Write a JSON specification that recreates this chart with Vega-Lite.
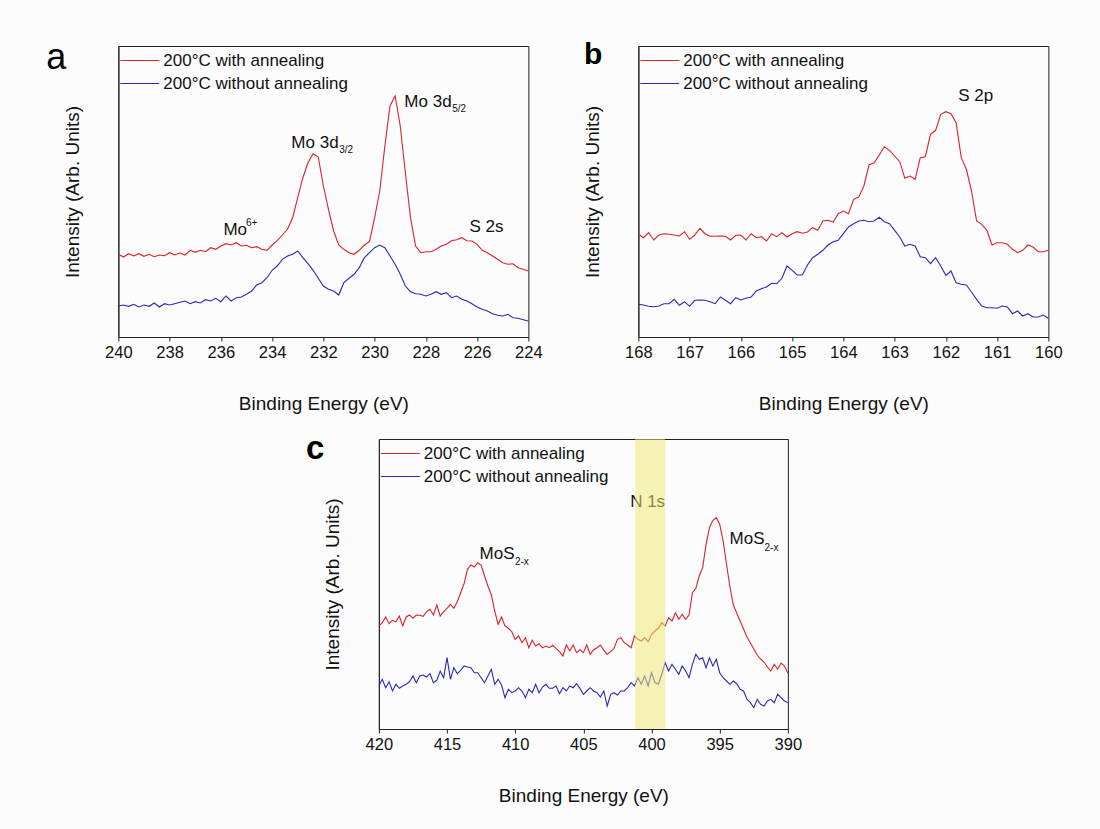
{
  "$schema": "https://vega.github.io/schema/vega-lite/v6.json",
  "background": "#fcfcfc",
  "padding": {"left": 45, "top": 39, "right": 40, "bottom": 25},
  "config": {
    "font": "Liberation Sans",
    "view": {"stroke": "#222", "strokeWidth": 1},
    "axis": {"grid": false, "domainColor": "#222", "tickColor": "#222", "labelColor": "#111", "titleColor": "#111", "titleFontWeight": "normal", "labelFontSize": 16.5, "titleFontSize": 19},
    "legend": {"labelLimit": 0}
  },
  "datasets": {
    "a": [
      {"e":240.0,"r":82.7,"b":31},{"e":239.8,"r":80,"b":32},{"e":239.6,"r":83.3,"b":30.7},{"e":239.4,"r":81,"b":32.7},{"e":239.2,"r":83.3,"b":30},
      {"e":239.0,"r":80.7,"b":32},{"e":238.8,"r":82.7,"b":30.7},{"e":238.6,"r":80.3,"b":34},{"e":238.4,"r":82,"b":30},{"e":238.2,"r":81.3,"b":33.3},
      {"e":238.0,"r":84.3,"b":32},{"e":237.8,"r":82,"b":33.3},{"e":237.6,"r":84,"b":34.7},{"e":237.4,"r":82,"b":36},{"e":237.2,"r":86.7,"b":33.3},
      {"e":237.0,"r":84.7,"b":35.3},{"e":236.8,"r":86.7,"b":34},{"e":236.6,"r":85.3,"b":37.3},{"e":236.4,"r":89.3,"b":36},{"e":236.2,"r":87.7,"b":38.7},
      {"e":236.0,"r":91,"b":35.3},{"e":235.8,"r":93.3,"b":41},{"e":235.6,"r":92,"b":36},{"e":235.4,"r":94.3,"b":39.3},{"e":235.2,"r":91,"b":40},
      {"e":235.0,"r":91.7,"b":42.7},{"e":234.8,"r":89.3,"b":46},{"e":234.6,"r":90.3,"b":52},{"e":234.4,"r":87.7,"b":54.3},{"e":234.2,"r":86.7,"b":59.3},
      {"e":234.0,"r":92,"b":66.7},{"e":233.8,"r":96.3,"b":71},{"e":233.6,"r":102,"b":77.7},{"e":233.4,"r":107.7,"b":81},{"e":233.2,"r":119.3,"b":82.7},
      {"e":233.0,"r":139.3,"b":86},{"e":232.8,"r":159.3,"b":79.3},{"e":232.6,"r":174.3,"b":73.3},{"e":232.4,"r":183.3,"b":66.7},{"e":232.2,"r":180,"b":58.7},
      {"e":232.0,"r":151,"b":51},{"e":231.8,"r":127.7,"b":47.7},{"e":231.6,"r":106,"b":46},{"e":231.4,"r":92,"b":42},{"e":231.2,"r":87.7,"b":54.3},
      {"e":231.0,"r":84.3,"b":58.7},{"e":230.8,"r":82.7,"b":62.7},{"e":230.6,"r":86.7,"b":69.3},{"e":230.4,"r":92,"b":79.3},{"e":230.2,"r":95.3,"b":84.3},
      {"e":230.0,"r":119.3,"b":89.3},{"e":229.8,"r":146,"b":92},{"e":229.6,"r":191,"b":89.3},{"e":229.4,"r":231,"b":81},{"e":229.2,"r":241,"b":72.7},
      {"e":229.0,"r":211,"b":62.7},{"e":228.8,"r":164.3,"b":51},{"e":228.6,"r":119.3,"b":45.3},{"e":228.4,"r":91,"b":43.3},{"e":228.2,"r":84.3,"b":42.7},
      {"e":228.0,"r":85.3,"b":41},{"e":227.8,"r":85.3,"b":42.7},{"e":227.6,"r":87.7,"b":45.3},{"e":227.4,"r":91,"b":42.7},{"e":227.2,"r":92.7,"b":44.3},
      {"e":227.0,"r":96.3,"b":39.3},{"e":226.8,"r":97.3,"b":41},{"e":226.6,"r":99.3,"b":37.7},{"e":226.4,"r":96.3,"b":36},{"e":226.2,"r":96,"b":33.3},
      {"e":226.0,"r":92.7,"b":30},{"e":225.8,"r":86.7,"b":27.7},{"e":225.6,"r":84.3,"b":26},{"e":225.4,"r":81,"b":23.3},{"e":225.2,"r":77.7,"b":21.7},
      {"e":225.0,"r":74.3,"b":21},{"e":224.8,"r":72.7,"b":22.7},{"e":224.6,"r":73.3,"b":19.3},{"e":224.4,"r":69.3,"b":18.7},{"e":224.2,"r":67.7,"b":17.3},
      {"e":224.0,"r":66,"b":16}
    ],
    "b": [
      {"e":168.0,"r":102.7,"b":32.7},{"e":167.9,"r":99.3,"b":32},{"e":167.8,"r":104.3,"b":30.7},{"e":167.7,"r":97,"b":30.3},{"e":167.6,"r":102,"b":31},
      {"e":167.5,"r":103.3,"b":33.3},{"e":167.4,"r":102.7,"b":33.3},{"e":167.3,"r":102,"b":37.7},{"e":167.2,"r":101,"b":31.7},{"e":167.1,"r":105.3,"b":35.3},
      {"e":167.0,"r":97.7,"b":30.7},{"e":166.9,"r":102,"b":36.7},{"e":166.8,"r":108.7,"b":37},{"e":166.7,"r":103.3,"b":36.7},{"e":166.6,"r":100.7,"b":35.3},
      {"e":166.5,"r":100.7,"b":33.3},{"e":166.4,"r":101,"b":40},{"e":166.3,"r":100.7,"b":36.7},{"e":166.2,"r":97,"b":33.3},{"e":166.1,"r":101.7,"b":39.3},
      {"e":166.0,"r":102,"b":37},{"e":165.9,"r":97,"b":38.7},{"e":165.8,"r":103.3,"b":40},{"e":165.7,"r":99.3,"b":46},{"e":165.6,"r":100.3,"b":48.3},
      {"e":165.5,"r":96,"b":50},{"e":165.4,"r":103.3,"b":53.7},{"e":165.3,"r":100.3,"b":53.3},{"e":165.2,"r":104.3,"b":58.7},{"e":165.1,"r":100,"b":71},
      {"e":165.0,"r":103.3,"b":66.7},{"e":164.9,"r":105.3,"b":62},{"e":164.8,"r":103.7,"b":62},{"e":164.7,"r":105,"b":72},{"e":164.6,"r":109.3,"b":79.3},
      {"e":164.5,"r":106.7,"b":82.7},{"e":164.4,"r":116,"b":86.7},{"e":164.3,"r":116.7,"b":92},{"e":164.2,"r":115,"b":95.3},{"e":164.1,"r":123.3,"b":96.7},
      {"e":164.0,"r":126,"b":103.3},{"e":163.9,"r":123.3,"b":110},{"e":163.8,"r":137.7,"b":113.3},{"e":163.7,"r":140,"b":116},{"e":163.6,"r":151,"b":116.7},
      {"e":163.5,"r":172,"b":115.3},{"e":163.4,"r":174.3,"b":116},{"e":163.3,"r":182,"b":119.7},{"e":163.2,"r":190.3,"b":115.3},{"e":163.1,"r":186.7,"b":113.3},
      {"e":163.0,"r":181,"b":106.7},{"e":162.9,"r":175.3,"b":100},{"e":162.8,"r":158.7,"b":91},{"e":162.7,"r":161,"b":92.7},{"e":162.6,"r":157.7,"b":91},
      {"e":162.5,"r":179.3,"b":80.3},{"e":162.4,"r":180.3,"b":79.3},{"e":162.3,"r":202.7,"b":73.3},{"e":162.2,"r":206.7,"b":79.3},{"e":162.1,"r":222.7,"b":71},
      {"e":162.0,"r":225.3,"b":61.7},{"e":161.9,"r":223.3,"b":66},{"e":161.8,"r":214.3,"b":54.3},{"e":161.7,"r":179.3,"b":52.7},{"e":161.6,"r":167.7,"b":52},
      {"e":161.5,"r":146,"b":45},{"e":161.4,"r":116,"b":37.7},{"e":161.3,"r":112.7,"b":31},{"e":161.2,"r":106.7,"b":29.3},{"e":161.1,"r":92,"b":29.3},
      {"e":161.0,"r":94.3,"b":28.7},{"e":160.9,"r":94.3,"b":31},{"e":160.8,"r":92.7,"b":30},{"e":160.7,"r":87.7,"b":23.3},{"e":160.6,"r":84.3,"b":26},
      {"e":160.5,"r":86.7,"b":21},{"e":160.4,"r":92,"b":23.3},{"e":160.3,"r":90,"b":20},{"e":160.2,"r":85.3,"b":20},{"e":160.1,"r":85.3,"b":22},
      {"e":160.0,"r":86.7,"b":18.7}
    ],
    "c": [
      {"e":420.0,"r":103,"b":43},{"e":419.75,"r":106.3,"b":49.7},{"e":419.5,"r":112,"b":41.3},{"e":419.25,"r":105.3,"b":47.3},{"e":419.0,"r":108.7,"b":38},
      {"e":418.75,"r":107.3,"b":44.7},{"e":418.5,"r":113,"b":40.7},{"e":418.25,"r":103,"b":43},{"e":418.0,"r":112,"b":44.7},{"e":417.75,"r":114,"b":47.3},
      {"e":417.5,"r":110.7,"b":53},{"e":417.25,"r":114,"b":46.3},{"e":417.0,"r":113.7,"b":53},{"e":416.75,"r":112.7,"b":54},{"e":416.5,"r":117.3,"b":52},
      {"e":416.25,"r":119.7,"b":55.3},{"e":416.0,"r":114,"b":46.3},{"e":415.75,"r":124,"b":48.7},{"e":415.5,"r":113,"b":58},{"e":415.25,"r":117.3,"b":51.3},
      {"e":415.0,"r":120.7,"b":71.3},{"e":414.75,"r":124.7,"b":49.7},{"e":414.5,"r":120.7,"b":61.3},{"e":414.25,"r":127.3,"b":55.3},{"e":414.0,"r":136.3,"b":58.7},
      {"e":413.75,"r":145.3,"b":63},{"e":413.5,"r":159.7,"b":62},{"e":413.25,"r":164,"b":61.3},{"e":413.0,"r":162,"b":56.3},{"e":412.75,"r":166.3,"b":56.3},
      {"e":412.5,"r":164,"b":51.3},{"e":412.25,"r":153,"b":46.3},{"e":412.0,"r":143,"b":53},{"e":411.75,"r":134,"b":59.7},{"e":411.5,"r":118,"b":44.7},
      {"e":411.25,"r":104.7,"b":49.7},{"e":411.0,"r":112,"b":44},{"e":410.75,"r":103,"b":31.3},{"e":410.5,"r":100.7,"b":39.7},{"e":410.25,"r":97.3,"b":36.3},
      {"e":410.0,"r":89.7,"b":38},{"e":409.75,"r":93,"b":41.3},{"e":409.5,"r":86.3,"b":38},{"e":409.25,"r":91.3,"b":31.3},{"e":409.0,"r":81.3,"b":39.7},
      {"e":408.75,"r":88.7,"b":36.3},{"e":408.5,"r":83,"b":44.7},{"e":408.25,"r":85.3,"b":36.3},{"e":408.0,"r":81.3,"b":42},{"e":407.75,"r":83,"b":44.7},
      {"e":407.5,"r":81.3,"b":40.7},{"e":407.25,"r":83.7,"b":40.7},{"e":407.0,"r":80.7,"b":43},{"e":406.75,"r":77.3,"b":35.3},{"e":406.5,"r":73,"b":41.3},
      {"e":406.25,"r":84,"b":38},{"e":406.0,"r":78,"b":43},{"e":405.75,"r":84,"b":41.3},{"e":405.5,"r":76.3,"b":45.3},{"e":405.25,"r":79.3,"b":40.7},
      {"e":405.0,"r":76.3,"b":34.7},{"e":404.75,"r":84,"b":38},{"e":404.5,"r":74.7,"b":41.3},{"e":404.25,"r":79.3,"b":38},{"e":404.0,"r":81.3,"b":36.3},
      {"e":403.75,"r":84,"b":32},{"e":403.5,"r":78.7,"b":38},{"e":403.25,"r":74.7,"b":23},{"e":403.0,"r":77.3,"b":34.7},{"e":402.75,"r":80.7,"b":36.3},
      {"e":402.5,"r":89.7,"b":34},{"e":402.25,"r":91.3,"b":38},{"e":402.0,"r":86.3,"b":38},{"e":401.75,"r":84,"b":41.3},{"e":401.5,"r":81.3,"b":46.3},
      {"e":401.25,"r":93,"b":43},{"e":401.0,"r":89.7,"b":51.3},{"e":400.75,"r":88,"b":44.7},{"e":400.5,"r":91.3,"b":53},{"e":400.25,"r":87.3,"b":43},
      {"e":400.0,"r":94.7,"b":56.3},{"e":399.75,"r":98,"b":46.3},{"e":399.5,"r":100.7,"b":44.7},{"e":399.25,"r":106.3,"b":54.7},{"e":399.0,"r":103,"b":66.3},
      {"e":398.75,"r":111.3,"b":58},{"e":398.5,"r":108,"b":64.7},{"e":398.25,"r":116.3,"b":59.7},{"e":398.0,"r":109.7,"b":54.7},{"e":397.75,"r":114.7,"b":63},
      {"e":397.5,"r":109.7,"b":58},{"e":397.25,"r":114,"b":51.3},{"e":397.0,"r":136.3,"b":64.7},{"e":396.75,"r":140.7,"b":74.7},{"e":396.5,"r":153,"b":69.7},
      {"e":396.25,"r":161.3,"b":71.3},{"e":396.0,"r":184.7,"b":61.3},{"e":395.75,"r":201.3,"b":71.3},{"e":395.5,"r":208.7,"b":63},{"e":395.25,"r":211.3,"b":69.7},
      {"e":395.0,"r":204.7,"b":56.3},{"e":394.75,"r":188,"b":51.3},{"e":394.5,"r":165,"b":48},{"e":394.25,"r":142,"b":44.7},{"e":394.0,"r":124,"b":48},
      {"e":393.75,"r":116,"b":45.3},{"e":393.5,"r":108,"b":39.7},{"e":393.25,"r":100,"b":38},{"e":393.0,"r":92,"b":29.7},{"e":392.75,"r":86,"b":26.3},
      {"e":392.5,"r":80,"b":21.3},{"e":392.25,"r":74,"b":29.7},{"e":392.0,"r":70,"b":24.7},{"e":391.75,"r":67,"b":23},{"e":391.5,"r":62,"b":28},
      {"e":391.25,"r":58,"b":29.7},{"e":391.0,"r":64.7,"b":26.3},{"e":390.75,"r":59.7,"b":34.7},{"e":390.5,"r":66,"b":31.3},{"e":390.25,"r":63,"b":28},
      {"e":390.0,"r":55.7,"b":26.3}
    ],
    "lab": [
      {"p":"a","e":235.9,"v":107,"t":"Mo"},
      {"p":"a","e":233.25,"v":194,"t":"Mo 3d"},
      {"p":"a","e":228.84,"v":235,"t":"Mo 3d"},
      {"p":"a","e":226.3,"v":110,"t":"S 2s"},
      {"p":"b","e":161.76,"v":241,"t":"S 2p"},
      {"p":"c","e":412.61,"v":174.7,"t":"MoS"},
      {"p":"c","e":394.28,"v":189.7,"t":"MoS"},
      {"p":"c","e":401.57,"v":227,"t":"N 1s"}
    ],
    "sub": [
      {"p":"a","e":235.02,"v":114,"t":"6+"},
      {"p":"a","e":231.38,"v":187,"t":"3/2"},
      {"p":"a","e":226.97,"v":228,"t":"5/2"},
      {"p":"c","e":410.02,"v":167.3,"t":"2-x"},
      {"p":"c","e":391.71,"v":181.3,"t":"2-x"}
    ],
    "letters": [
      {"p":"a","e":242.81,"v":268,"t":"a"},
      {"p":"b","e":169.06,"v":273,"t":"b"},
      {"p":"c","e":425.35,"v":270,"t":"c"}
    ],
    "band": [{"x1":401.2,"x2":399.0}]
  },
  "spacing": 18,
  "center": true,
  "resolve": {"scale": {"color": "independent"}, "legend": {"color": "independent"}},
  "vconcat": [
    {
      "spacing": 39,
      "resolve": {"scale": {"color": "independent"}, "legend": {"color": "independent"}},
      "hconcat": [
        {
          "width": 410, "height": 291,
          "layer": [
            {
              "data": {"name": "a"},
              "transform": [{"fold": ["r", "b"], "as": ["s", "v"]}],
              "mark": {"type": "line", "strokeWidth": 1.1},
              "encoding": {
                "x": {"field": "e", "type": "quantitative", "scale": {"domain": [224, 240], "reverse": true, "nice": false, "zero": false},
                  "axis": {"title": "Binding Energy (eV)", "values": [224,225,226,227,228,229,230,231,232,233,234,235,236,237,238,239,240], "labelExpr": "datum.value % 2 == 0 ? datum.label : ''", "tickSize": 4, "labelFontSize": 16.5, "labelPadding": 3.5, "titlePadding": 33, "labelOverlap": false, "labelFlush": false}},
                "y": {"field": "v", "type": "quantitative", "scale": {"domain": [0, 291], "nice": false}, "axis": {"title": "Intensity (Arb. Units)", "ticks": false, "labels": false, "titlePadding": 36}},
                "color": {"field": "s", "type": "nominal", "sort": ["r", "b"], "scale": {"domain": ["r", "b"], "range": ["#d8232a", "#2a2ab8"]},
                  "legend": {"title": null, "orient": "none", "legendX": 11, "legendY": 4, "padding": 0, "symbolType": "M-2,0H2", "symbolSize": 380, "symbolStrokeWidth": 1.2, "labelFontSize": 17, "labelOffset": 13, "rowPadding": 4, "labelLimit": 0, "labelColor": "#111", "labelExpr": "datum.label == 'r' ? '200°C with annealing' : '200°C without annealing'"}}
              }
            },
            {
              "data": {"name": "lab"}, "transform": [{"filter": "datum.p == 'a'"}],
              "mark": {"type": "text", "align": "left", "baseline": "middle", "fontSize": 17, "color": "#111"},
              "encoding": {"x": {"field": "e", "type": "quantitative"}, "y": {"field": "v", "type": "quantitative"}, "text": {"field": "t"}}
            },
            {
              "data": {"name": "sub"}, "transform": [{"filter": "datum.p == 'a'"}],
              "mark": {"type": "text", "align": "left", "baseline": "middle", "fontSize": 10, "color": "#111"},
              "encoding": {"x": {"field": "e", "type": "quantitative"}, "y": {"field": "v", "type": "quantitative"}, "text": {"field": "t"}}
            },
            {
              "data": {"name": "letters"}, "transform": [{"filter": "datum.p == 'a'"}],
              "mark": {"type": "text", "align": "left", "baseline": "alphabetic", "fontSize": 36, "color": "#000"},
              "encoding": {"x": {"field": "e", "type": "quantitative"}, "y": {"field": "v", "type": "quantitative"}, "text": {"field": "t"}}
            }
          ]
        },
        {
          "width": 410, "height": 291,
          "layer": [
            {
              "data": {"name": "b"},
              "transform": [{"fold": ["r", "b"], "as": ["s", "v"]}],
              "mark": {"type": "line", "strokeWidth": 1.1},
              "encoding": {
                "x": {"field": "e", "type": "quantitative", "scale": {"domain": [160, 168], "reverse": true, "nice": false, "zero": false},
                  "axis": {"title": "Binding Energy (eV)", "values": [160,160.5,161,161.5,162,162.5,163,163.5,164,164.5,165,165.5,166,166.5,167,167.5,168], "labelExpr": "datum.value % 1 == 0 ? datum.label : ''", "tickSize": 4, "labelFontSize": 16.5, "labelPadding": 3.5, "titlePadding": 33, "labelOverlap": false, "labelFlush": false}},
                "y": {"field": "v", "type": "quantitative", "scale": {"domain": [0, 291], "nice": false}, "axis": {"title": "Intensity (Arb. Units)", "ticks": false, "labels": false, "titlePadding": 36}},
                "color": {"field": "s", "type": "nominal", "sort": ["r", "b"], "scale": {"domain": ["r", "b"], "range": ["#d8232a", "#2a2ab8"]},
                  "legend": {"title": null, "orient": "none", "legendX": 11, "legendY": 4, "padding": 0, "symbolType": "M-2,0H2", "symbolSize": 380, "symbolStrokeWidth": 1.2, "labelFontSize": 17, "labelOffset": 13, "rowPadding": 4, "labelLimit": 0, "labelColor": "#111", "labelExpr": "datum.label == 'r' ? '200°C with annealing' : '200°C without annealing'"}}
              }
            },
            {
              "data": {"name": "lab"}, "transform": [{"filter": "datum.p == 'b'"}],
              "mark": {"type": "text", "align": "left", "baseline": "middle", "fontSize": 17, "color": "#111"},
              "encoding": {"x": {"field": "e", "type": "quantitative"}, "y": {"field": "v", "type": "quantitative"}, "text": {"field": "t"}}
            },
            {
              "data": {"name": "letters"}, "transform": [{"filter": "datum.p == 'b'"}],
              "mark": {"type": "text", "align": "left", "baseline": "alphabetic", "fontSize": 30, "fontWeight": "bold", "color": "#000"},
              "encoding": {"x": {"field": "e", "type": "quantitative"}, "y": {"field": "v", "type": "quantitative"}, "text": {"field": "t"}}
            }
          ]
        }
      ]
    },
    {
      "width": 409, "height": 290,
      "layer": [
        {
          "data": {"name": "c"},
          "transform": [{"fold": ["r", "b"], "as": ["s", "v"]}],
          "mark": {"type": "line", "strokeWidth": 1.1},
          "encoding": {
            "x": {"field": "e", "type": "quantitative", "scale": {"domain": [390, 420], "reverse": true, "nice": false, "zero": false},
              "axis": {"title": "Binding Energy (eV)", "values": [390,392.5,395,397.5,400,402.5,405,407.5,410,412.5,415,417.5,420], "labelExpr": "datum.value % 5 == 0 ? datum.label : ''", "tickSize": 4, "labelFontSize": 16.5, "labelPadding": 3.5, "titlePadding": 33, "labelOverlap": false, "labelFlush": false}},
            "y": {"field": "v", "type": "quantitative", "scale": {"domain": [0, 290], "nice": false}, "axis": {"title": "Intensity (Arb. Units)", "ticks": false, "labels": false, "titlePadding": 36}},
            "color": {"field": "s", "type": "nominal", "sort": ["r", "b"], "scale": {"domain": ["r", "b"], "range": ["#d8232a", "#2a2ab8"]},
              "legend": {"title": null, "orient": "none", "legendX": 11, "legendY": 4, "padding": 0, "symbolType": "M-2,0H2", "symbolSize": 380, "symbolStrokeWidth": 1.2, "labelFontSize": 17, "labelOffset": 13, "rowPadding": 4, "labelLimit": 0, "labelColor": "#111", "labelExpr": "datum.label == 'r' ? '200°C with annealing' : '200°C without annealing'"}}
          }
        },
        {
          "data": {"name": "lab"}, "transform": [{"filter": "datum.p == 'c'"}],
          "mark": {"type": "text", "align": "left", "baseline": "middle", "fontSize": 17, "color": "#111"},
          "encoding": {"x": {"field": "e", "type": "quantitative"}, "y": {"field": "v", "type": "quantitative"}, "text": {"field": "t"}}
        },
        {
          "data": {"name": "sub"}, "transform": [{"filter": "datum.p == 'c'"}],
          "mark": {"type": "text", "align": "left", "baseline": "middle", "fontSize": 10, "color": "#111"},
          "encoding": {"x": {"field": "e", "type": "quantitative"}, "y": {"field": "v", "type": "quantitative"}, "text": {"field": "t"}}
        },
        {
          "data": {"name": "letters"}, "transform": [{"filter": "datum.p == 'c'"}],
          "mark": {"type": "text", "align": "left", "baseline": "alphabetic", "fontSize": 33, "fontWeight": "bold", "color": "#000"},
          "encoding": {"x": {"field": "e", "type": "quantitative"}, "y": {"field": "v", "type": "quantitative"}, "text": {"field": "t"}}
        },
        {
          "data": {"name": "band"},
          "mark": {"type": "rect", "color": "#f0e871", "opacity": 0.53},
          "encoding": {"x": {"field": "x1", "type": "quantitative"}, "x2": {"field": "x2"}}
        }
      ]
    }
  ]
}
